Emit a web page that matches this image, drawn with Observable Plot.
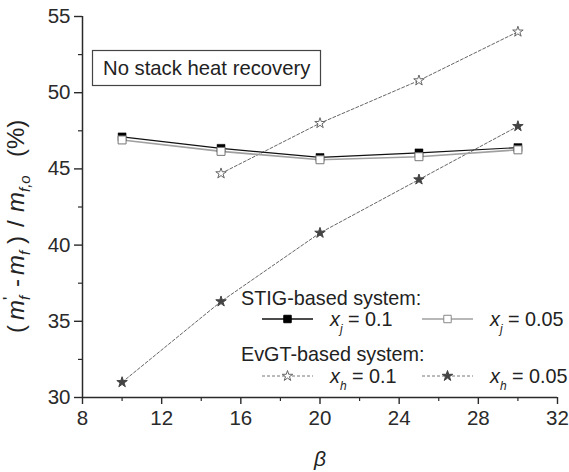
<!DOCTYPE html>
<html><head><meta charset="utf-8">
<script src="https://cdn.jsdelivr.net/npm/d3@7"></script>
<script src="https://cdn.jsdelivr.net/npm/@observablehq/plot@0.6"></script>
<style>
body{margin:0;background:#fff;}
#chart{position:relative;width:569px;height:472px;}
</style>
</head><body><div id="chart"></div>
<script>
// ---- data ----
const beta = [10, 15, 20, 25, 30];
const betaXh01 = [15, 20, 25, 30];
const stigXj01 = [47.1, 46.35, 45.75, 46.05, 46.4];   // filled squares
const stigXj005 = [46.9, 46.15, 45.6, 45.8, 46.25];   // open squares
const evgtXh01 = [44.7, 48.0, 50.8, 54.0];            // open stars
const evgtXh005 = [31.0, 36.3, 40.8, 44.3, 47.8];     // filled stars
const xTicks = [8, 12, 16, 20, 24, 28, 32];
const xMinor = [10, 14, 18, 22, 26, 30];
const yTicks = [30, 35, 40, 45, 50, 55];
const yMinor = [32.5, 37.5, 42.5, 47.5, 52.5];
const boxText = "No stack heat recovery";
const legendHead1 = "STIG-based system:";
const legendHead2 = "EvGT-based system:";

const rows = (xs, ys) => xs.map((x, i) => ({x, y: ys[i]}));
const dA = rows(beta, stigXj01);
const dB = rows(beta, stigXj005);
const dC = rows(betaXh01, evgtXh01);
const dD = rows(beta, evgtXh005);

const axisColor = "#2a2a2a";
const font = "'Liberation Sans', Arial, sans-serif";

const plot = Plot.plot({
  width: 569, height: 472,
  marginLeft: 82, marginRight: 12, marginTop: 16, marginBottom: 75,
  x: {domain: [8, 32]},
  y: {domain: [30, 55]},
  style: {fontFamily: font, fontSize: "20px", color: axisColor, background: "#fff"},
  marks: [
    Plot.axisX(xTicks, {tickSize: 7, tickPadding: 6, label: null, strokeWidth: 1.4, fontSize: 20.5}),
    Plot.axisX(xMinor, {tickSize: 4, tickFormat: () => "", label: null, strokeWidth: 1.2}),
    Plot.axisY(yTicks, {tickSize: 8, tickPadding: 4, label: null, strokeWidth: 1.4, fontSize: 20.5}),
    Plot.axisY(yMinor, {tickSize: 4, tickFormat: () => "", label: null, strokeWidth: 1.2}),
    Plot.ruleX([8], {stroke: axisColor, strokeWidth: 1.5}),
    Plot.ruleY([30], {stroke: axisColor, strokeWidth: 1.5}),
    Plot.line(dC, {x: "x", y: "y", stroke: "#666", strokeWidth: 1, strokeDasharray: "3,2"}),
    Plot.line(dD, {x: "x", y: "y", stroke: "#666", strokeWidth: 1, strokeDasharray: "3,2"}),
    Plot.line(dB, {x: "x", y: "y", stroke: "#a0a0a0", strokeWidth: 1.6}),
    Plot.line(dA, {x: "x", y: "y", stroke: "#111", strokeWidth: 1.2}),
    Plot.dot(dA, {x: "x", y: "y", symbol: "square", r: 4.5, fill: "#000", stroke: "#000", strokeWidth: 0.5}),
    Plot.dot(dB, {x: "x", y: "y", symbol: "square", r: 4.5, fill: "#fff", stroke: "#777", strokeWidth: 1}),
    Plot.dot(dC, {x: "x", y: "y", symbol: "star", r: 3.3, fill: "#fff", stroke: "#666", strokeWidth: 1}),
    Plot.dot(dD, {x: "x", y: "y", symbol: "star", r: 3.3, fill: "#444", stroke: "#444", strokeWidth: 1})
  ]
});
document.getElementById("chart").appendChild(plot);

const svg = d3.select(plot);
svg.selectAll('g[aria-label$="tick label"]').style("font-size", "20.5px");
svg.selectAll('g[aria-label$="tick label"] text').style("font-size", "20.5px");
const g = svg.append("g").attr("font-family", font).attr("fill", "#222").attr("text-anchor", "start");

// annotation box
g.append("rect").attr("x", 92.5).attr("y", 50.5).attr("width", 228).attr("height", 35)
  .attr("fill", "#fff").attr("stroke", "#444").attr("stroke-width", 1.2);
g.append("text").attr("x", 103).attr("y", 75).attr("font-size", 20.3).text(boxText);

// y label (rotated), pieces placed along the rotated baseline
const yl = g.append("text").attr("transform", "translate(24,335) rotate(-90)").attr("font-size", 24);
const piece = (txt, x, y, opts = {}) => {
  const t = yl.append("tspan").attr("x", x).attr("y", y).text(txt);
  if (opts.italic) t.attr("font-style", "italic");
  if (opts.size) t.attr("font-size", opts.size);
};
piece("(", 2, 0);
piece("m", 15, 0, {italic: true});
piece("'", 35, -9, {size: 17});
piece("f", 35, 6, {italic: true, size: 15});
piece("-", 48, 0);
piece("m", 60, 0, {italic: true});
piece("f", 80, 6, {italic: true, size: 15});
piece(")", 91, 0);
piece("/", 108, 0);
piece("m", 123, 0, {italic: true});
piece("f,o", 143, 6, {italic: true, size: 15});
piece("(%)", 178, 0);

// x label
g.append("text").attr("x", 320).attr("y", 466).attr("text-anchor", "middle")
  .attr("font-size", 21).attr("font-style", "italic").text("\u03b2");

// legend
const sym = (type, r) => d3.symbol(type, r * r * Math.PI)();
g.append("text").attr("x", 241).attr("y", 305).attr("font-size", 19.8).text(legendHead1);
g.append("text").attr("x", 241).attr("y", 361).attr("font-size", 19.8).text(legendHead2);

const legendItems = [
  {x0: 262, y: 319, stroke: "#111", sw: 1.3, dash: null, type: d3.symbolSquare, fill: "#000", sstroke: "#000", r: 4.2, sub: "j", val: "0.1"},
  {x0: 422, y: 319, stroke: "#a0a0a0", sw: 1.4, dash: null, type: d3.symbolSquare, fill: "#fff", sstroke: "#888", r: 4.2, sub: "j", val: "0.05"},
  {x0: 262, y: 376, stroke: "#777", sw: 1, dash: "3,2", type: d3.symbolStar, fill: "#fff", sstroke: "#666", r: 3.3, sub: "h", val: "0.1"},
  {x0: 422, y: 376, stroke: "#777", sw: 1, dash: "3,2", type: d3.symbolStar, fill: "#444", sstroke: "#444", r: 3.3, sub: "h", val: "0.05"}
];
for (const it of legendItems) {
  g.append("line").attr("x1", it.x0).attr("x2", it.x0 + 51).attr("y1", it.y).attr("y2", it.y)
    .attr("stroke", it.stroke).attr("stroke-width", it.sw).attr("stroke-dasharray", it.dash);
  g.append("path").attr("d", sym(it.type, it.r)).attr("transform", `translate(${it.x0 + 25.5},${it.y})`)
    .attr("fill", it.fill).attr("stroke", it.sstroke).attr("stroke-width", 1);
  const t = g.append("text").attr("x", it.x0 + 68).attr("y", it.y + 7).attr("font-size", 19.8);
  t.append("tspan").attr("font-style", "italic").text("x");
  t.append("tspan").attr("font-style", "italic").attr("font-size", 12).attr("dy", 7).text(it.sub);
  t.append("tspan").attr("dy", -7).text("\u00a0= " + it.val);
}
</script>
</body></html>
